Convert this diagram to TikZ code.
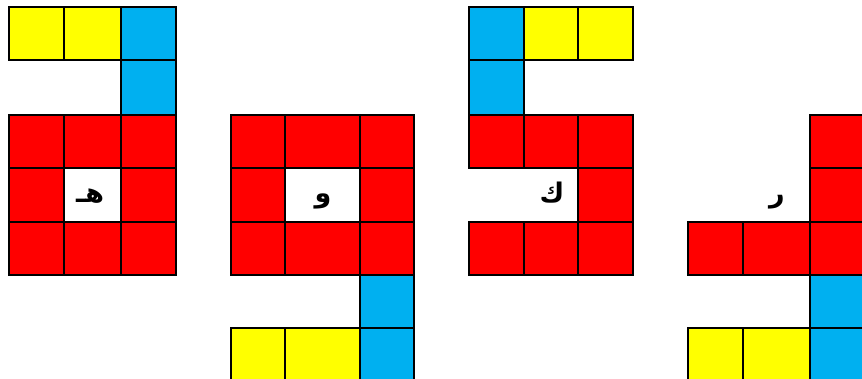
\documentclass[tikz,border=0pt]{standalone}
\usepackage{fontspec}
\newfontfamily\arabicfont[Script=Arabic]{DejaVu Sans}
\TeXXeTstate=1
\definecolor{cR}{HTML}{FF0000}
\definecolor{cY}{HTML}{FFFF00}
\definecolor{cB}{HTML}{00B0F0}
\begin{document}
\begin{tikzpicture}[x=1pt,y=-1pt,
  sq/.style={draw=black,line width=2pt},
  R/.style={sq,fill=cR},
  Y/.style={sq,fill=cY},
  B/.style={sq,fill=cB},
  W/.style={sq,fill=white},
  letter/.style={font=\arabicfont\bfseries\fontsize{27}{27}\selectfont,inner sep=0pt,anchor=base}]
\useasboundingbox (0,0) rectangle (862,379);
\clip (0,0) rectangle (862,379);
\fill[white] (0,0) rectangle (862,379);
% group 1
\path[Y] (9,7) rectangle (64,60);
\path[Y] (64,7) rectangle (121,60);
\path[B] (121,7) rectangle (176,60);
\path[B] (121,60) rectangle (176,115);
\path[R] (9,115) rectangle (64,168);
\path[R] (64,115) rectangle (121,168);
\path[R] (121,115) rectangle (176,168);
\path[R] (9,168) rectangle (64,222);
\path[W] (64,168) rectangle (121,222);
\path[R] (121,168) rectangle (176,222);
\path[R] (9,222) rectangle (64,275);
\path[R] (64,222) rectangle (121,275);
\path[R] (121,222) rectangle (176,275);
\node[letter] (heh) at (90,203) {\beginR هـ\endR};
% group 2
\path[R] (231,115) rectangle (285,168);
\path[R] (285,115) rectangle (360,168);
\path[R] (360,115) rectangle (414,168);
\path[R] (231,168) rectangle (285,222);
\path[W] (285,168) rectangle (360,222);
\path[R] (360,168) rectangle (414,222);
\path[R] (231,222) rectangle (285,275);
\path[R] (285,222) rectangle (360,275);
\path[R] (360,222) rectangle (414,275);
\path[B] (360,275) rectangle (414,328);
\path[Y] (231,328) rectangle (285,383);
\path[Y] (285,328) rectangle (360,383);
\path[B] (360,328) rectangle (414,383);
\node[letter] (waw) at (323,203) {\beginR و\endR};
% group 3
\path[B] (469,7) rectangle (524,60);
\path[Y] (524,7) rectangle (578,60);
\path[Y] (578,7) rectangle (633,60);
\path[B] (469,60) rectangle (524,115);
\path[R] (469,115) rectangle (524,168);
\path[R] (524,115) rectangle (578,168);
\path[R] (578,115) rectangle (633,168);
\path[R] (578,168) rectangle (633,222);
\path[R] (469,222) rectangle (524,275);
\path[R] (524,222) rectangle (578,275);
\path[R] (578,222) rectangle (633,275);
\node[letter] (kaf) at (552,203) {\beginR ك\endR};
% group 4
\path[R] (810,115) rectangle (866,168);
\path[R] (810,168) rectangle (866,222);
\path[R] (688,222) rectangle (743,275);
\path[R] (743,222) rectangle (810,275);
\path[R] (810,222) rectangle (866,275);
\path[B] (810,275) rectangle (866,328);
\path[Y] (688,328) rectangle (743,383);
\path[Y] (743,328) rectangle (810,383);
\path[B] (810,328) rectangle (866,383);
\node[letter] (reh) at (777,203) {\beginR ر\endR};
\end{tikzpicture}
\end{document}
